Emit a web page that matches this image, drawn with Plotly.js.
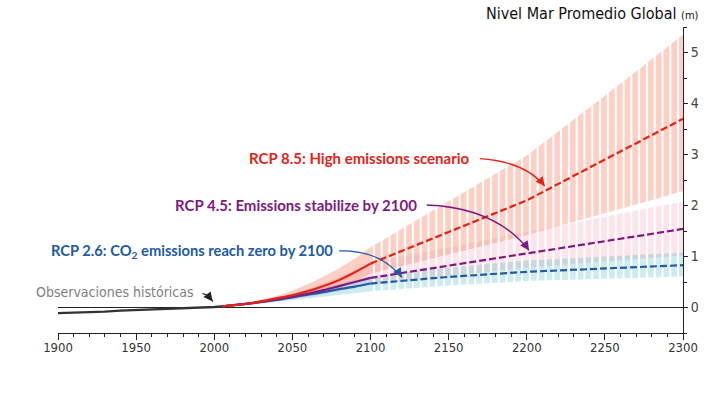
<!DOCTYPE html>
<html>
<head>
<meta charset="utf-8">
<script src="https://cdn.plot.ly/plotly-3.0.1.min.js"></script>
<style>
  html, body { margin: 0; padding: 0; background: #fff; }
  #chart { width: 720px; height: 416px; }
</style>
</head>
<body>
<div id="chart"></div>
<script>
// ---------- data (metres, relative to ~2000) ----------
const histYears = [1900, 1910, 1920, 1930, 1940, 1950, 1960, 1970, 1980, 1990, 2000, 2005];
const histLevel = [-0.11, -0.10, -0.10, -0.08, -0.06, -0.05, -0.04, -0.03, -0.02, -0.01, 0.01, 0.02];

// projections to 2100 (solid)
const nearYears = [2005, 2010, 2020, 2030, 2040, 2050, 2060, 2070, 2080, 2090, 2100];
const rcp85Near    = [0.02, 0.04, 0.07, 0.12, 0.18, 0.24, 0.32, 0.42, 0.54, 0.69, 0.86];
const rcp85NearHi  = [0.02, 0.05, 0.09, 0.15, 0.23, 0.33, 0.46, 0.61, 0.77, 0.96, 1.18];
const rcp85NearLo  = [0.02, 0.03, 0.06, 0.09, 0.13, 0.18, 0.24, 0.31, 0.40, 0.52, 0.66];
const rcp45Near    = [0.02, 0.04, 0.07, 0.11, 0.16, 0.21, 0.27, 0.34, 0.42, 0.50, 0.58];
const rcp45NearHi  = [0.02, 0.05, 0.09, 0.14, 0.20, 0.28, 0.37, 0.48, 0.60, 0.73, 0.88];
const rcp45NearLo  = [0.02, 0.03, 0.05, 0.08, 0.12, 0.16, 0.21, 0.26, 0.32, 0.38, 0.45];
const rcp26Near    = [0.02, 0.04, 0.07, 0.11, 0.15, 0.20, 0.25, 0.30, 0.36, 0.41, 0.47];
const rcp26NearHi  = [0.02, 0.05, 0.09, 0.13, 0.19, 0.25, 0.32, 0.39, 0.46, 0.54, 0.62];
const rcp26NearLo  = [0.02, 0.03, 0.05, 0.08, 0.11, 0.14, 0.18, 0.21, 0.25, 0.28, 0.32];

// projections 2100-2300 (dashed, striped ranges)
const farYears = [2100, 2150, 2200, 2250, 2300];
const rcp85Far   = [0.86, 1.48, 2.10, 2.90, 3.70];
const rcp85FarHi = [1.18, 2.08, 2.98, 4.15, 5.35];
const rcp85FarLo = [0.66, 1.04, 1.42, 1.85, 2.28];
const rcp45Far   = [0.58, 0.82, 1.06, 1.30, 1.54];
const rcp45FarHi = [0.88, 1.18, 1.48, 1.78, 2.08];
const rcp45FarLo = [0.45, 0.62, 0.78, 0.90, 1.02];
const rcp26Far   = [0.47, 0.60, 0.70, 0.77, 0.83];
const rcp26FarHi = [0.62, 0.78, 0.92, 1.00, 1.08];
const rcp26FarLo = [0.32, 0.43, 0.52, 0.57, 0.61];

const xTicks = [1900, 1950, 2000, 2050, 2100, 2150, 2200, 2250, 2300];
const yTicks = [0, 1, 2, 3, 4, 5];

// ---------- styles ----------
const C85 = '#e2231a', C45 = '#7d1a7f', C26 = '#225aa4';
const B85 = 'rgba(249,121,89,0.35)';
const B45 = 'rgba(245,120,150,0.2)';
const B26 = 'rgba(5,155,180,0.2)';
const SANS = '"DejaVu Sans Condensed", "DejaVu Sans", sans-serif';

function band(x, lo, hi, color, striped) {
  const shape = striped ? 'linear' : 'spline';
  const lower = {x: x, y: lo, mode: 'lines', line: {width: 0, shape: shape, smoothing: 0.8}, hoverinfo: 'skip', showlegend: false};
  const upper = {x: x, y: hi, mode: 'lines', line: {width: 0, shape: shape, smoothing: 0.8}, fill: 'tonexty', hoverinfo: 'skip', showlegend: false};
  if (striped) {
    upper.fillpattern = {shape: '|', size: 7.8, solidity: 0.26, fillmode: 'replace', bgcolor: color, fgcolor: '#ffffff'};
  } else {
    upper.fillcolor = color;
  }
  return [lower, upper];
}
function line(x, y, color, dash) {
  return {x: x, y: y, mode: 'lines',
          line: {color: color, width: 2.2, dash: dash || 'solid', shape: dash ? 'linear' : 'spline', smoothing: 0.8},
          hoverinfo: 'skip', showlegend: false};
}

const traces = [].concat(
  band(nearYears, rcp45NearLo, rcp45NearHi, B45, false),
  band(farYears, rcp45FarLo, rcp45FarHi, B45, true),
  band(nearYears, rcp26NearLo, rcp26NearHi, B26, false),
  band(farYears, rcp26FarLo, rcp26FarHi, B26, true),
  band(nearYears, rcp85NearLo, rcp85NearHi, B85, false),
  band(farYears, rcp85FarLo, rcp85FarHi, B85, true),
  [
    line(nearYears, rcp26Near, C26),
    line(farYears, rcp26Far, C26, '7px,3px'),
    line(nearYears, rcp45Near, C45),
    line(farYears, rcp45Far, C45, '7px,3px'),
    line(nearYears, rcp85Near, C85),
    line(farYears, rcp85Far, C85, '7px,3px'),
    {x: histYears, y: histLevel, mode: 'lines', line: {color: '#333333', width: 2.3}, hoverinfo: 'skip', showlegend: false}
  ]
);

const labelFont = {family: 'Lato, "Open Sans", sans-serif', size: 15, weight: 'bold'};
function arrowHead(x, y, ax, ay, color) {
  return {x: x, y: y, xref: 'x', yref: 'y', text: '', showarrow: true, ax: ax, ay: ay,
          arrowhead: 2, arrowsize: 1.4, arrowwidth: 1.3, arrowcolor: color, standoff: 0};
}

const layout = {
  width: 720, height: 416,
  margin: {l: 58, r: 37, t: 27, b: 83},
  paper_bgcolor: '#ffffff', plot_bgcolor: '#ffffff',
  showlegend: false,
  font: {family: SANS, color: '#333'},
  title: {
    text: 'Nivel Mar Promedio Global <span style="font-size:11px">(m)</span>',
    font: {family: SANS, size: 16, color: '#111'},
    xref: 'container', yref: 'container', x: 0.97, xanchor: 'right', y: 0.968, yanchor: 'middle'
  },
  xaxis: {
    range: [1900, 2300], tickvals: xTicks, ticktext: xTicks.map(String),
    showgrid: false, zeroline: false, showline: true, linecolor: '#222', linewidth: 1,
    ticks: 'outside', ticklen: 6, tickcolor: '#222', tickwidth: 1, ticklabelstandoff: -4,
    minor: {dtick: 10, tick0: 1900, ticks: 'outside', ticklen: 3, tickcolor: '#222', showgrid: false},
    tickfont: {family: SANS, size: 13, color: '#333'}, fixedrange: true
  },
  yaxis: {
    range: [-0.5, 5.5], side: 'right', tickvals: yTicks, ticktext: yTicks.map(String),
    showgrid: false, zeroline: true, zerolinecolor: '#222', zerolinewidth: 1,
    showline: true, linecolor: '#222', linewidth: 1,
    ticks: 'outside', ticklen: 4, tickcolor: '#222',
    minor: {dtick: 0.5, tick0: 0, ticks: 'outside', ticklen: 3, tickcolor: '#222', showgrid: false},
    tickfont: {family: SANS, size: 14, color: '#444'}, fixedrange: true
  },
  shapes: [
    {type: 'path', xref: 'x', yref: 'y', path: 'M 2170,2.92 Q 2199,2.86 2211.5,2.38', line: {color: C85, width: 1.3}},
    {type: 'path', xref: 'x', yref: 'y', path: 'M 2136,2.01 Q 2180,1.96 2201.5,1.12', line: {color: C45, width: 1.3}},
    {type: 'path', xref: 'x', yref: 'y', path: 'M 2080,1.11 Q 2106,1.13 2120,0.59', line: {color: C26, width: 1.3}},
    {type: 'path', xref: 'x', yref: 'y', path: 'M 1992.5,0.27 Q 1996.6,0.25 1999,0.12', line: {color: '#222', width: 1.3}}
  ],
  annotations: [
    {x: 2165, y: 2.935, xref: 'x', yref: 'y', xanchor: 'right', yanchor: 'middle', showarrow: false,
     text: 'RCP 8.5: High emissions scenario', font: Object.assign({color: C85}, labelFont)},
    {x: 2131, y: 2.01, xref: 'x', yref: 'y', xanchor: 'right', yanchor: 'middle', showarrow: false,
     text: 'RCP 4.5: Emissions stabilize by 2100', font: Object.assign({color: C45}, labelFont)},
    {x: 2077, y: 1.11, xref: 'x', yref: 'y', xanchor: 'right', yanchor: 'middle', showarrow: false,
     text: 'RCP 2.6: CO<sub>2</sub> emissions reach zero by 2100', font: Object.assign({color: C26}, labelFont, {size: 14.7})},
    {x: 1988, y: 0.31, xref: 'x', yref: 'y', xanchor: 'right', yanchor: 'middle', showarrow: false,
     text: 'Observaciones históricas', font: {family: SANS, size: 14, color: '#808080'}},
    arrowHead(2211.5, 2.38, -5, -6.5, C85),
    arrowHead(2201.5, 1.12, -4.5, -6.5, C45),
    arrowHead(2120, 0.59, -4, -6.5, C26),
    arrowHead(1999, 0.12, -4, -5, '#222')
  ]
};

Plotly.newPlot('chart', traces, layout, {staticPlot: true, displayModeBar: false});
</script>
</body>
</html>
